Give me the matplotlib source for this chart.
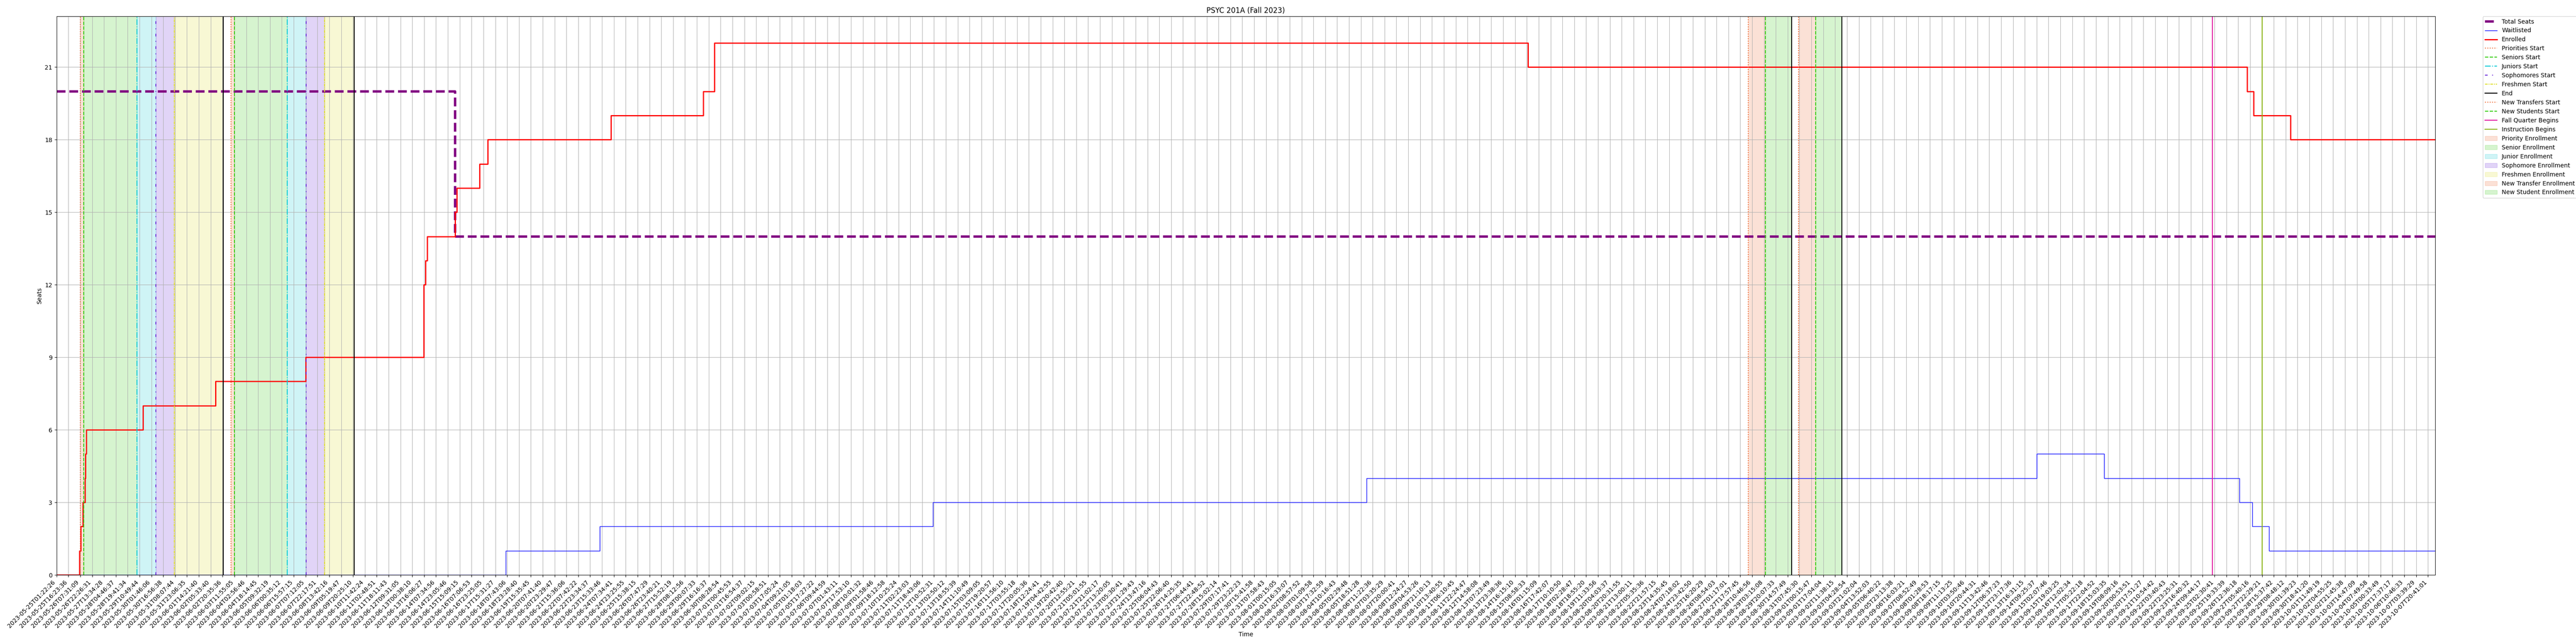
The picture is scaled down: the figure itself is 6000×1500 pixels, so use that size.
import numpy as np
import matplotlib
matplotlib.use("Agg")
import matplotlib.pyplot as plt
from matplotlib.ticker import MultipleLocator

# tick labels (one every k samples), x unit = one tick step
tick_labels = [
    "2023-05-25T01:22:26", "2023-05-25T16:23:36", "2023-05-26T07:31:09", "2023-05-26T22:26:31",
    "2023-05-27T13:34:28", "2023-05-28T04:46:37", "2023-05-28T19:41:34", "2023-05-29T10:49:44",
    "2023-05-30T01:46:06", "2023-05-30T16:56:38", "2023-05-31T08:07:44", "2023-05-31T23:06:35",
    "2023-06-01T14:21:40", "2023-06-02T05:33:40", "2023-06-02T20:35:36", "2023-06-03T11:55:05",
    "2023-06-04T02:56:46", "2023-06-04T18:14:45", "2023-06-05T09:32:19", "2023-06-06T00:35:12",
    "2023-06-06T15:57:15", "2023-06-07T07:12:05", "2023-06-07T22:17:51", "2023-06-08T13:42:16",
    "2023-06-09T05:19:47", "2023-06-09T20:25:10", "2023-06-10T11:42:24", "2023-06-11T02:48:51",
    "2023-06-11T18:11:43", "2023-06-12T09:31:05", "2023-06-13T00:38:10", "2023-06-13T16:06:27",
    "2023-06-14T07:34:56", "2023-06-14T23:05:46", "2023-06-15T15:09:15", "2023-06-16T07:06:53",
    "2023-06-16T23:25:05", "2023-06-17T15:31:27", "2023-06-18T07:43:06", "2023-06-18T23:28:40",
    "2023-06-19T15:35:45", "2023-06-20T07:41:40", "2023-06-20T23:29:47", "2023-06-21T15:36:06",
    "2023-06-22T07:42:22", "2023-06-22T23:34:37", "2023-06-23T15:33:46", "2023-06-24T07:34:41",
    "2023-06-24T23:25:55", "2023-06-25T15:38:15", "2023-06-26T07:47:29", "2023-06-26T23:40:21",
    "2023-06-27T15:52:19", "2023-06-28T08:12:56", "2023-06-29T00:07:33", "2023-06-29T16:16:37",
    "2023-06-30T08:28:54", "2023-07-01T00:45:53", "2023-07-01T16:54:37", "2023-07-02T09:02:15",
    "2023-07-03T00:58:51", "2023-07-03T17:05:24", "2023-07-04T09:21:05", "2023-07-05T01:18:03",
    "2023-07-05T17:27:22", "2023-07-06T09:44:59", "2023-07-07T01:43:11", "2023-07-07T17:53:10",
    "2023-07-08T10:01:32", "2023-07-09T01:58:46", "2023-07-09T18:12:58", "2023-07-10T10:25:24",
    "2023-07-11T02:23:03", "2023-07-11T18:43:06", "2023-07-12T10:52:31", "2023-07-13T02:50:12",
    "2023-07-13T18:55:39", "2023-07-14T11:10:49", "2023-07-15T03:09:05", "2023-07-15T19:20:57",
    "2023-07-16T11:56:10", "2023-07-17T03:55:18", "2023-07-17T20:05:36", "2023-07-18T12:24:41",
    "2023-07-19T04:42:55", "2023-07-19T20:42:40", "2023-07-20T12:55:21", "2023-07-21T05:01:55",
    "2023-07-21T21:02:17", "2023-07-22T13:20:05", "2023-07-23T05:30:41", "2023-07-23T21:29:43",
    "2023-07-24T13:47:16", "2023-07-25T06:04:43", "2023-07-25T22:06:40", "2023-07-26T14:25:35",
    "2023-07-27T06:44:41", "2023-07-27T22:48:52", "2023-07-28T15:02:14", "2023-07-29T07:17:41",
    "2023-07-29T23:22:23", "2023-07-30T15:41:58", "2023-07-31T07:58:43", "2023-08-01T00:15:05",
    "2023-08-01T16:33:07", "2023-08-02T08:57:52", "2023-08-03T01:09:58", "2023-08-03T17:32:59",
    "2023-08-04T10:16:43", "2023-08-05T02:29:48", "2023-08-05T18:51:28", "2023-08-06T11:22:36",
    "2023-08-07T03:35:29", "2023-08-07T20:00:41", "2023-08-08T12:24:27", "2023-08-09T04:53:26",
    "2023-08-09T21:10:13", "2023-08-10T13:40:55", "2023-08-11T06:10:45", "2023-08-11T22:24:47",
    "2023-08-12T14:58:08", "2023-08-13T07:23:49", "2023-08-13T23:38:36", "2023-08-14T16:15:10",
    "2023-08-15T08:58:33", "2023-08-16T01:15:09", "2023-08-16T17:42:07", "2023-08-17T10:10:50",
    "2023-08-18T02:28:47", "2023-08-18T18:55:20", "2023-08-19T11:33:56", "2023-08-20T04:03:37",
    "2023-08-20T20:31:55", "2023-08-21T13:00:11", "2023-08-22T05:35:36", "2023-08-22T21:57:15",
    "2023-08-23T14:35:45", "2023-08-24T07:18:02", "2023-08-24T23:42:50", "2023-08-25T16:20:29",
    "2023-08-26T08:54:03", "2023-08-27T01:17:01", "2023-08-27T17:57:45", "2023-08-28T10:46:56",
    "2023-08-29T03:15:08", "2023-08-29T20:07:33", "2023-08-30T14:57:49", "2023-08-31T07:45:30",
    "2023-09-01T00:15:47", "2023-09-01T17:04:04", "2023-09-02T11:38:15", "2023-09-03T04:28:54",
    "2023-09-03T21:02:04", "2023-09-04T13:52:03", "2023-09-05T06:40:22", "2023-09-05T23:13:38",
    "2023-09-06T16:03:21", "2023-09-07T08:52:49", "2023-09-08T01:28:53", "2023-09-08T18:17:15",
    "2023-09-09T11:13:25", "2023-09-10T03:50:46", "2023-09-10T20:44:31", "2023-09-11T13:42:46",
    "2023-09-12T06:37:23", "2023-09-12T23:17:36", "2023-09-13T16:31:15", "2023-09-14T09:25:37",
    "2023-09-15T02:07:46", "2023-09-15T19:03:25", "2023-09-16T12:02:34", "2023-09-17T05:22:18",
    "2023-09-17T22:04:52", "2023-09-18T15:03:35", "2023-09-19T08:09:16", "2023-09-20T00:53:51",
    "2023-09-20T17:51:27", "2023-09-21T10:54:42", "2023-09-22T03:40:43", "2023-09-22T23:25:31",
    "2023-09-23T16:40:32", "2023-09-24T09:44:17", "2023-09-25T02:30:41", "2023-09-25T19:33:39",
    "2023-09-26T12:36:18", "2023-09-27T05:40:16", "2023-09-27T22:29:21", "2023-09-28T15:37:42",
    "2023-09-29T08:48:12", "2023-09-30T01:39:23", "2023-09-30T18:41:20", "2023-10-01T11:49:19",
    "2023-10-02T04:55:25", "2023-10-02T21:45:38", "2023-10-03T14:47:09", "2023-10-04T07:49:58",
    "2023-10-05T00:33:49", "2023-10-05T17:37:17", "2023-10-06T10:46:33", "2023-10-07T03:39:29",
    "2023-10-07T20:41:01",
]
x_end = 200.6

# step series (change points)
seats_x = [0, 33.6]
seats_y = [20, 14]

wait_x = [0, 37.9, 45.8, 73.9, 110.5, 167.0, 172.7, 184.1, 185.2, 186.6]
wait_y = [0, 1, 2, 3, 4, 5, 4, 3, 2, 1]

enr_x = [0, 1.94, 2.03, 2.23, 2.39, 2.44, 2.51, 7.29, 13.4, 21.0, 30.98, 31.1, 31.26,
         33.6, 33.75, 35.69, 36.38, 46.77, 54.53, 55.5, 124.1, 184.76, 185.3, 188.4]
enr_y = [0, 1, 2, 3, 4, 5, 6, 7, 8, 9, 12, 13, 14,
         15, 16, 17, 18, 19, 20, 22, 21, 20, 19, 18]

# enrollment pass events
priority_x = [2.0, 14.70]
senior_x = [2.30, 14.99]
junior_x = [6.78, 19.44]
soph_x = [8.36, 21.04]
fresh_x = [9.95, 22.60]
end_x = [14.07, 25.09, 146.34, 150.56]
transfer_x = [142.69, 146.91]
newstud_x = [144.13, 148.35]
fall_begin_x = 181.8
instr_begin_x = 186.0


def steps(xs, ys):
    return list(xs) + [x_end], list(ys) + [ys[-1]]


fig, ax = plt.subplots(figsize=(60, 15), dpi=100)
fig.subplots_adjust(left=0.02195, right=0.9453, top=0.9747, bottom=0.1073)

x, y = steps(seats_x, seats_y)
ax.plot(x, y, drawstyle="steps-post", color="purple", linestyle="--", linewidth=4, label="Total Seats")
x, y = steps(wait_x, wait_y)
ax.plot(x, y, drawstyle="steps-post", color="blue", linewidth=1, label="Waitlisted")
x, y = steps(enr_x, enr_y)
ax.plot(x, y, drawstyle="steps-post", color="red", linewidth=2, label="Enrolled")

c_pri = "#ee6a33"
c_sen = "#33cc11"
c_jun = "#11cbd6"
c_sop = "#6a2ad8"
c_fre = "#dede2a"
c_fall = "#e0169f"
c_ins = "#8ab412"

lines = [
    (priority_x, c_pri, ":", "Priorities Start"),
    (senior_x, c_sen, "--", "Seniors Start"),
    (junior_x, c_jun, "-.", "Juniors Start"),
    (soph_x, c_sop, (0, (3, 5, 1, 5)), "Sophomores Start"),
    (fresh_x, c_fre, (0, (3, 1, 1, 1)), "Freshmen Start"),
    (end_x, "black", "-", "End"),
    (transfer_x, c_pri, ":", "New Transfers Start"),
    (newstud_x, c_sen, "--", "New Students Start"),
]
for xs, c, ls, lab in lines:
    for i, xv in enumerate(xs):
        ax.axvline(xv, color=c, linestyle=ls, linewidth=1.5, label=lab if i == 0 else None)
ax.axvline(fall_begin_x, color=c_fall, linewidth=1.5, label="Fall Quarter Begins")
ax.axvline(instr_begin_x, color=c_ins, linewidth=1.5, label="Instruction Begins")

spans = [
    (priority_x, senior_x, c_pri, "Priority Enrollment"),
    (senior_x, junior_x, c_sen, "Senior Enrollment"),
    (junior_x, soph_x, c_jun, "Junior Enrollment"),
    (soph_x, fresh_x, c_sop, "Sophomore Enrollment"),
    (fresh_x, end_x[:2], c_fre, "Freshmen Enrollment"),
    (transfer_x, newstud_x, c_pri, "New Transfer Enrollment"),
    (newstud_x, end_x[2:], c_sen, "New Student Enrollment"),
]
for starts, stops, c, lab in spans:
    for i, (a, b) in enumerate(zip(starts, stops)):
        ax.axvspan(a, b, color=c, alpha=0.2, label=lab if i == 0 else None)

ax.set_xticks(np.arange(len(tick_labels)))
ax.set_xticklabels(tick_labels, rotation=45, ha="right")
ax.set_xlim(0, x_end)
ax.set_ylim(0, 23.1)
ax.yaxis.set_major_locator(MultipleLocator(3))
ax.grid(True)
ax.set_xlabel("Time")
ax.set_ylabel("Seats")
ax.set_title("PSYC 201A (Fall 2023)")
ax.legend(loc="upper left", bbox_to_anchor=(1.02, 1), borderaxespad=0)

fig.savefig("out.png")
